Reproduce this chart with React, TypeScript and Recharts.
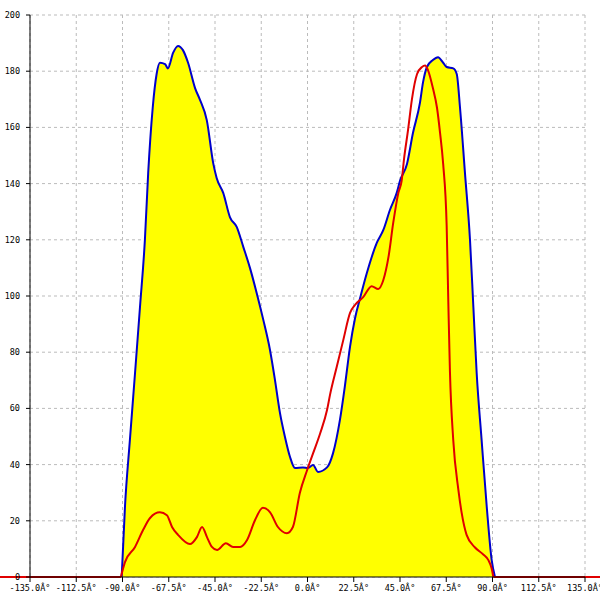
import {
  Area,
  CartesianGrid,
  ComposedChart,
  Line,
  ReferenceLine,
  XAxis,
  YAxis,
} from 'recharts';

const xTicks = [-135, -112.5, -90, -67.5, -45, -22.5, 0, 22.5, 45, 67.5, 90, 112.5, 135];
const yTicks = [0, 20, 40, 60, 80, 100, 120, 140, 160, 180, 200];

// yellow filled pattern, blue outline
const blueAngles = [
  -90.4, -88.8, -86.4, -83.9, -81.5, -79.1, -77.5, -75.3, -73.4, -71.8, -69.3, -67.9, -65.4, -63,
  -60.6, -58.1, -54.7, -52.3, -49, -45.8, -44.2, -41, -37.7, -34.45, -31.2, -28, -24.7, -21.5,
  -18.25, -15.8, -13.4, -10.95, -8.5, -6.1, -2.2, 0.2, 2.7, 5.1, 9.5, 12.4, 15.8, 18.2, 20.7, 23.1,
  25.5, 28.8, 33.7, 36.9, 40.1, 43.4, 45, 48.4, 51.3, 54.7, 56.2, 58.1, 61, 63.5, 66, 67.7, 70.9,
  72.6, 74.2, 76.6, 79.05, 80.7, 82.3, 84.7, 87.2, 89.6, 91.2,
];
const blueValues = [
  0, 25, 48.8, 72.6, 96, 120, 143.8, 167, 179, 183, 182.5, 181, 186.5, 189, 187.5, 183, 174, 169.8,
  162.6, 147, 142, 136.7, 128, 124.6, 117.4, 110, 101, 91.5, 80.8, 70, 58.4, 49.8, 42.7, 38.8, 39,
  38.8, 39.9, 37.4, 39, 44, 56, 68, 82, 92, 99, 108, 118.9, 123.5, 130.6, 136.7, 141, 147, 158,
  168.7, 176, 181.5, 184, 185, 183, 181.5, 181, 179, 167, 143.8, 120, 96, 72.6, 48.8, 25, 6, 0,
];

// red line
const redAngles = [
  -90.8, -88.8, -83.9, -80, -76.6, -71.8, -68.4, -65.9, -63, -57.2, -53.8, -51.3, -48.9, -46.5, -44,
  -39.7, -36.2, -32.8, -29.4, -25.5, -21.7, -18.2, -14.4, -10, -7.1, -3.7, -0.2, 2.7, 6.1, 9.5, 11,
  14.2, 17.4, 20.7, 23.1, 27.1, 31.2, 34.4, 36.9, 39.4, 41.7, 44.2, 45.8, 47, 48.9, 50.8, 53.3,
  55.7, 57.2, 58.6, 61, 63, 64.5, 66, 67.7, 68.5, 69.3, 70.9, 73.4, 75, 77.4, 81.5, 85.5, 88, 89.6,
  90.4,
];
const redValues = [
  0, 5.3, 10.7, 16.7, 21, 23, 22, 17.8, 15, 11.7, 14.2, 17.8, 14.2, 10.7, 9.6, 12, 10.7, 10.7, 13.2,
  20.3, 24.6, 23, 17.8, 15.6, 17.8, 30, 38, 44, 51, 59.4, 65, 74.7, 84.3, 94, 96.8, 99.6, 103.5,
  102.5, 105.7, 113.9, 126, 136.7, 141, 149, 159, 170, 179, 181.5, 182, 180.4, 174, 167, 158, 147,
  125, 98, 73, 48.8, 31, 22.8, 15, 10.5, 8, 6, 3, 0,
];

// red zero line running out past both ends of the axis
const zeroLineEnds = [-150, 150];

const blueData = blueAngles.map((angle, i) => ({ angle, value: blueValues[i] }));
const redData = redAngles.map((angle, i) => ({ angle, value: redValues[i] }));

const tickStyle = { fontSize: 8.5, fontFamily: 'DejaVu Sans Mono', fill: '#000' };

export default function App() {
  return (
    <div style={{ width: 600, height: 600 }}>
      <style>{'body{margin:0}'}</style>
      <ComposedChart width={600} height={600} margin={{ top: 15, right: 15, bottom: 0, left: 0 }}>
        <CartesianGrid stroke="#bbb" strokeDasharray="3 3" />
        <XAxis
          dataKey="angle"
          type="number"
          domain={[-135, 135]}
          ticks={xTicks}
          height={23}
          tick={tickStyle}
          tickFormatter={(v: number) => `${v.toFixed(1)}Â°`}
          tickSize={5}
          tickMargin={3}
          stroke="#000"
          interval={0}
        />
        <YAxis
          type="number"
          domain={[0, 200]}
          ticks={yTicks}
          width={30}
          tick={tickStyle}
          tickSize={4}
          tickMargin={6}
          stroke="#000"
          interval={0}
        />
        <Area
          data={blueData}
          dataKey="value"
          type="monotone"
          stroke="#0000cc"
          strokeWidth={2}
          fill="#ffff00"
          fillOpacity={1}
          isAnimationActive={false}
        />
        <ReferenceLine
          segment={[
            { x: zeroLineEnds[0], y: 0 },
            { x: redAngles[0], y: 0 },
          ]}
          stroke="#e00000"
          strokeWidth={2}
          ifOverflow="visible"
        />
        <ReferenceLine
          segment={[
            { x: redAngles[redAngles.length - 1], y: 0 },
            { x: zeroLineEnds[1], y: 0 },
          ]}
          stroke="#e00000"
          strokeWidth={2}
          ifOverflow="visible"
        />
        <Line
          data={redData}
          dataKey="value"
          type="monotone"
          stroke="#e00000"
          strokeWidth={2}
          dot={false}
          isAnimationActive={false}
        />
      </ComposedChart>
    </div>
  );
}
